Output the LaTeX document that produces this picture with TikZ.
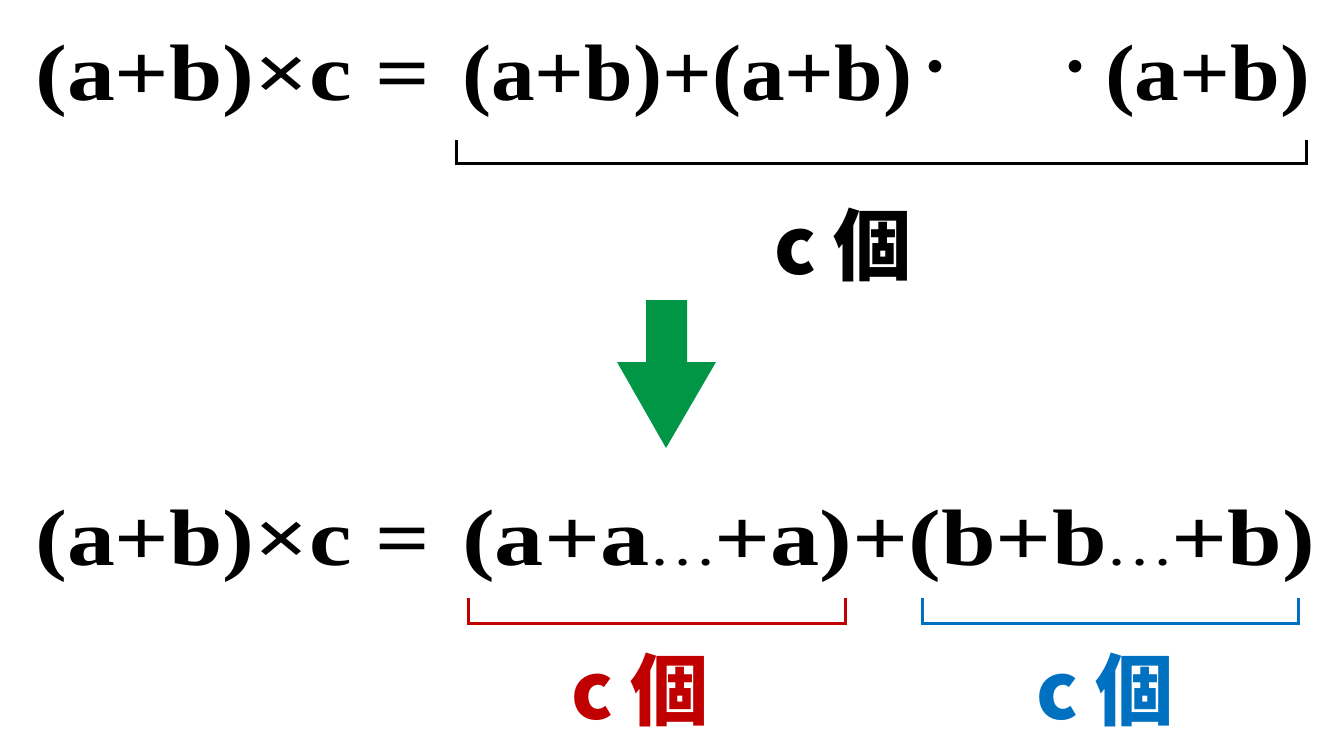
\documentclass[tikz,border=0pt]{standalone}
\usepackage{fontspec}
\usepackage{graphicx}
\setmainfont{Liberation Serif}
\newfontfamily\jp{Noto Sans CJK JP}
\definecolor{grn}{RGB}{0,150,70}
\definecolor{rd}{RGB}{192,0,0}
\definecolor{bl}{RGB}{0,112,192}
\begin{document}
\begin{tikzpicture}[x=1pt,y=-1pt,
  eq/.style={inner sep=0pt,anchor=base west,font=\fontsize{80}{86}\selectfont\bfseries},
  dot/.style={inner sep=0pt,font=\jp\fontsize{60}{64}\selectfont},
  cnt/.style={inner sep=0pt,font=\jp\fontsize{78}{82}\selectfont\bfseries},
  brk/.style={line width=3pt}]
\useasboundingbox (0,0) rectangle (1333,750);
\node[eq] (l1a) at (35,100) {\resizebox{395pt}{\height}{(a+b)×c =}};
\node[eq] (l1b) at (462,100) {\resizebox{450pt}{\height}{(a+b)+(a+b)}};
\node[dot] (d1) at (935,75) {・};
\node[dot] (d2) at (1075,75) {・};
\node[eq] (l1d) at (1105,100) {\resizebox{205pt}{\height}{(a+b)}};
\coordinate (t1) at (456,140); \coordinate (t2) at (1306,140);
\draw[brk] (t1) |- (1306,163) -- (t2);
\node[cnt] (c1) at (843,245) {c 個};
\fill[grn] (646,300) -- (687,300) -- (687,362) -- (716,362) -- (666,448) -- (617,362) -- (646,362) -- cycle;
\node[eq] (l2a) at (35,565) {\resizebox{395pt}{\height}{(a+b)×c =}};
\node[eq] (l2b) at (462,565) {\resizebox{853pt}{\height}{(a+a{\jp\mdseries\fontsize{50}{54}\selectfont ⋯}+a)+(b+b{\jp\mdseries\fontsize{50}{54}\selectfont ⋯}+b)}};
\coordinate (r1) at (468,598); \coordinate (r2) at (845,598);
\draw[brk,rd] (r1) |- (845,623) -- (r2);
\node[cnt,text=rd] (c2) at (640,690) {c 個};
\coordinate (b1) at (922,598); \coordinate (b2) at (1298,598);
\draw[brk,bl] (b1) |- (1298,623) -- (b2);
\node[cnt,text=bl] (c3) at (1105,690) {c 個};
\end{tikzpicture}
\end{document}
